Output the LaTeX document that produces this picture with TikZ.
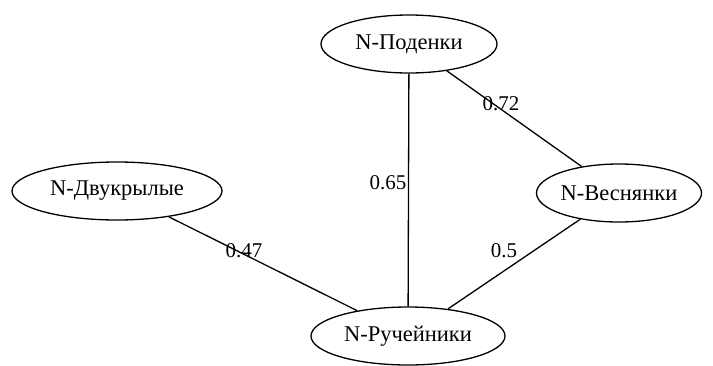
\documentclass[tikz,border=0pt]{standalone}
\usepackage{fontspec}
\setmainfont{Liberation Serif}
\newfontfamily\graphfont{Liberation Serif}
\usetikzlibrary{shapes.geometric}
\begin{document}
\begin{tikzpicture}[x=1pt,y=-1pt,
  taxon/.style={draw, ellipse, line width=1.3pt, inner sep=0pt,
    minimum width=#1, minimum height=58pt, font=\graphfont\fontsize{22.5}{22.5}\selectfont},
  link/.style={line width=1.3pt},
  weight/.style={inner sep=0pt, font=\graphfont\fontsize{21}{21}\selectfont}]
  \useasboundingbox (0,0) rectangle (713,365);
  \node[taxon=176pt] (pod) at (409,44) {N-Поденки};
  \node[taxon=210pt] (dvu) at (117,191) {N-Двукрылые};
  \node[taxon=154pt] (ves) at (619,193) {N-Веснянки};
  \node[taxon=194pt] (ruc) at (408,336) {N-Ручейники};
  \draw[link] (pod) -- (ruc);
  \draw[link] (pod) -- (ves);
  \draw[link] (dvu) -- (ruc);
  \draw[link] (ves) -- (ruc);
  \node[weight] (w1) at (388,183) {0.65};
  \node[weight] (w2) at (501,104) {0.72};
  \node[weight] (w3) at (244,251) {0.47};
  \node[weight] (w4) at (504,251) {0.5};
\end{tikzpicture}
\end{document}
